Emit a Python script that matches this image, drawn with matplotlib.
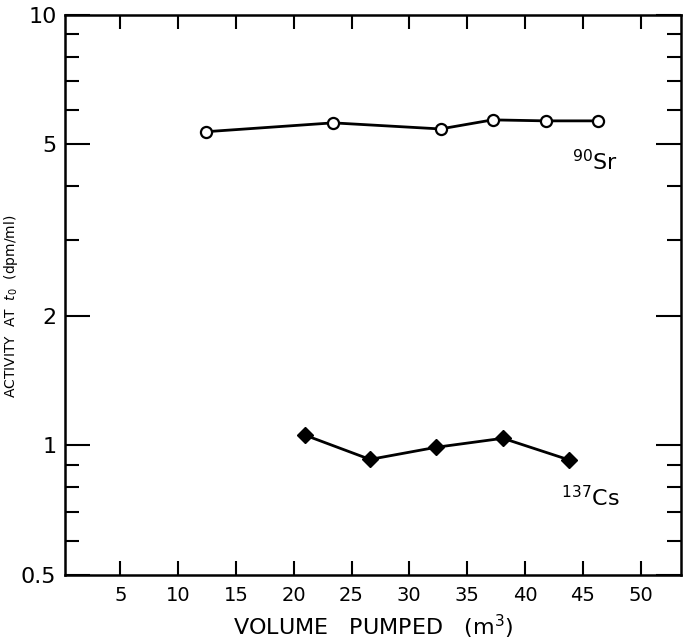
import numpy as np
import matplotlib.pyplot as plt
from matplotlib.ticker import FixedLocator, NullFormatter

# volumen bombeado (m3) y actividad a t0 (dpm/ml)
vol_sr = [12.4, 23.4, 32.7, 37.2, 41.8, 46.3]
act_sr = [5.35, 5.61, 5.43, 5.70, 5.67, 5.67]

vol_cs = [21.0, 26.6, 32.3, 38.1, 43.8]
act_cs = [1.055, 0.927, 0.989, 1.038, 0.925]

xticks = [5, 10, 15, 20, 25, 30, 35, 40, 45, 50]
yticks = [0.5, 1, 2, 5, 10]
yticklabels = ['0.5', '1', '2', '5', '10']
yminor = [0.6, 0.7, 0.8, 0.9, 3, 4, 6, 7, 8, 9]

plt.rcParams['font.family'] = ['DejaVu Sans']

fig = plt.figure(figsize=(6.97, 6.43), dpi=100)
ax = fig.add_axes([0.093, 0.106, 0.884, 0.871])

ax.plot(vol_sr, act_sr, color='black', lw=2, marker='o', ms=8,
        mfc='white', mec='black', mew=1.6)
ax.plot(vol_cs, act_cs, color='black', lw=2, marker='D', ms=8,
        mfc='black', mec='black')

ax.set_yscale('log')
ax.set_xlim(0.2, 53.5)
ax.set_ylim(0.5, 10)

ax.xaxis.set_major_locator(FixedLocator(xticks))
ax.yaxis.set_major_locator(FixedLocator(yticks))
ax.yaxis.set_minor_locator(FixedLocator(yminor))
ax.yaxis.set_minor_formatter(NullFormatter())
ax.set_yticklabels(yticklabels)
ax.minorticks_on()
ax.xaxis.set_minor_locator(FixedLocator([]))

ax.tick_params(axis='x', which='major', direction='in', top=True, bottom=True,
               length=10, width=1.5, labelsize=14, pad=8)
ax.tick_params(axis='y', which='major', direction='in', left=True, right=True,
               length=18, width=1.5, labelsize=16, pad=6)
ax.tick_params(axis='y', which='minor', direction='in', left=True, right=True,
               length=10, width=1.5)

for s in ax.spines.values():
    s.set_linewidth(1.8)

ax.text(44.1, 4.55, r'$^{90}$Sr', fontsize=16, ha='left', va='center')
ax.text(43.1, 0.755, r'$^{137}$Cs', fontsize=16, ha='left', va='center')

ax.set_xlabel(r'VOLUME   PUMPED   (m$^3$)', fontsize=16, labelpad=6)
ax.set_ylabel(r'ACTIVITY  AT  $t_0$  (dpm/ml)', fontsize=10)
ax.yaxis.set_label_coords(-0.072, 0.48)

fig.savefig('out.png', dpi=100)
